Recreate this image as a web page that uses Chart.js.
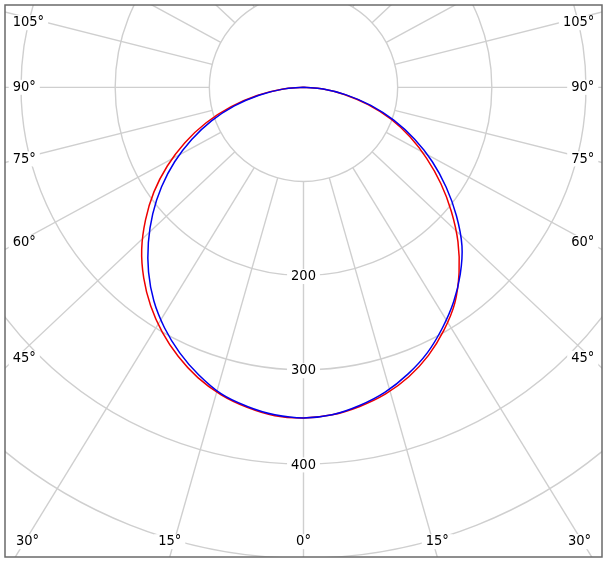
<!DOCTYPE html>
<html>
<head>
<meta charset="utf-8">
<script src="https://cdn.jsdelivr.net/npm/chart.js@4"></script>
<style>
html,body{margin:0;padding:0;background:#ffffff;}
canvas{display:block;}
</style>
</head>
<body>
<canvas id="c" width="607" height="561"></canvas>
<script>
// gamma angles (deg from nadir) for each half-plane
const gammaAngles = [0,5,10,15,20,25,30,35,40,45,50,55,60,65,70,75,80,85,90];
// luminous intensity (cd) – red plane, left half and right half
const redLeft  = [351,350,345,338,328,315,300,283,264,243,219,194,167,139,110,80,50,23,0];
const redRight = [351,349,344,337,327,314,298,280,257,232,205,178,151,125,99,71,44,21,0];
// blue plane, left half and right half
const blueLeft  = [351,349,344,337,325,311,295,277,256,233,209,184,158,131,104,76,48,22,0];
const blueRight = [351,349,343,335,324,311,295,278,259,238,212,185,158,130,102,74,46,21,0];
// grid rings and their labels
const ringValues = [100,200,300,400,500,600];
const ringLabelValues = [200,300,400];
// spoke angles (deg)
const spokeAngles = [-180,-165,-150,-135,-120,-105,-90,-75,-60,-45,-30,-15,0,15,30,45,60,75,90,105,120,135,150,165,180];

const SPOKE_ASPECT = 1.063;
const FONT = '14.5px "DejaVu Sans Condensed", "DejaVu Sans", sans-serif';

function toXY(left, right){
  const pts = [];
  for (let i = gammaAngles.length - 1; i >= 0; i--) {
    const t = gammaAngles[i] * Math.PI / 180;
    pts.push({x: -left[i] * Math.sin(t), y: -left[i] * Math.cos(t)});
  }
  for (let i = 1; i < gammaAngles.length; i++) {
    const t = gammaAngles[i] * Math.PI / 180;
    pts.push({x: right[i] * Math.sin(t), y: -right[i] * Math.cos(t)});
  }
  return pts;
}

function labelBox(ctx, text, cx, cy){
  const w = ctx.measureText(text).width;
  ctx.fillStyle = '#ffffff';
  ctx.fillRect(cx - w/2 - 4, cy - 7.5, w + 8, 15);
  ctx.fillStyle = '#000000';
  ctx.fillText(text, cx, cy);
}

const polarGrid = {
  id: 'polarGrid',
  beforeDatasetsDraw(chart){
    const {ctx, chartArea: a, scales: {x, y}} = chart;
    const cx = x.getPixelForValue(0), cy = y.getPixelForValue(0);
    ctx.save();
    ctx.beginPath(); ctx.rect(a.left, a.top, a.width, a.height); ctx.clip();
    ctx.strokeStyle = '#cfcfcf';
    ctx.lineWidth = 1.4;
    for (const v of ringValues) {
      const r = x.getPixelForValue(v) - cx;
      ctx.beginPath(); ctx.arc(cx, cy, r, 0, 2*Math.PI); ctx.stroke();
    }
    const r0 = x.getPixelForValue(ringValues[0]) - cx;
    const labels = [];
    for (const g of spokeAngles) {
      const t = g * Math.PI / 180;
      let ux = SPOKE_ASPECT * Math.sin(t), uy = Math.cos(t);
      const n = Math.hypot(ux, uy); ux /= n; uy /= n;
      ctx.beginPath();
      ctx.moveTo(cx + r0*ux, cy + r0*uy);
      ctx.lineTo(cx + 3000*ux, cy + 3000*uy);
      ctx.stroke();
      let best = Infinity, side = null;
      if (ux < -1e-9) { const s = (a.left - cx)/ux; if (s < best) { best = s; side = 'L'; } }
      if (ux > 1e-9) { const s = (a.right - cx)/ux; if (s < best) { best = s; side = 'R'; } }
      if (uy > 1e-9) { const s = (a.bottom - cy)/uy; if (s < best) { best = s; side = 'B'; } }
      if (uy < -1e-9) { const s = (a.top - cy)/uy; if (s < best) { best = s; side = 'T'; } }
      if (side && side !== 'T') labels.push({g, side, hx: cx + best*ux, hy: cy + best*uy, c: Math.cos(t)});
    }
    ctx.restore();

    ctx.save();
    ctx.font = FONT;
    ctx.textBaseline = 'middle';
    ctx.textAlign = 'center';
    for (const v of ringLabelValues) {
      const py = y.getPixelForValue(-v);
      labelBox(ctx, String(v), cx, py + 0.8);
    }
    for (const L of labels) {
      const text = Math.abs(L.g) + '\u00B0';
      const w = ctx.measureText(text).width;
      let px, py;
      if (L.side === 'B') {
        py = a.bottom - 15.3;
        px = Math.min(Math.max(L.hx, a.left + 11 + w/2), a.right - 11 - w/2);
      } else {
        py = Math.max(L.hy - 14*L.c, a.top + 17.7);
        px = L.side === 'L' ? a.left + 7.7 + w/2 : a.right - 7.7 - w/2;
      }
      labelBox(ctx, text, px, py);
    }
    ctx.restore();
  },
  afterDraw(chart){
    const {ctx, chartArea: a} = chart;
    ctx.save();
    ctx.strokeStyle = '#6a6a6a';
    ctx.lineWidth = 1.5;
    ctx.strokeRect(a.left, a.top, a.width, a.height);
    ctx.restore();
  }
};

new Chart(document.getElementById('c'), {
  type: 'scatter',
  data: {
    datasets: [
      {label: 'C90-C270', data: toXY(blueLeft, blueRight), showLine: true, borderColor: '#0000ee', borderWidth: 1.5, pointRadius: 0, tension: 0.4, fill: false},
      {label: 'C0-C180', data: toXY(redLeft, redRight), showLine: true, borderColor: '#ee0000', borderWidth: 1.5, pointRadius: 0, tension: 0.4, fill: false}
    ]
  },
  options: {
    responsive: false,
    animation: false,
    devicePixelRatio: 1,
    layout: {padding: {left: 5, top: 5, right: 5, bottom: 4}},
    plugins: {legend: {display: false}, tooltip: {enabled: false}},
    scales: {
      x: {type: 'linear', min: -317, max: 317, display: false},
      y: {type: 'linear', min: -498.6, max: 87.4, display: false}
    }
  },
  plugins: [polarGrid]
});
</script>
</body>
</html>
